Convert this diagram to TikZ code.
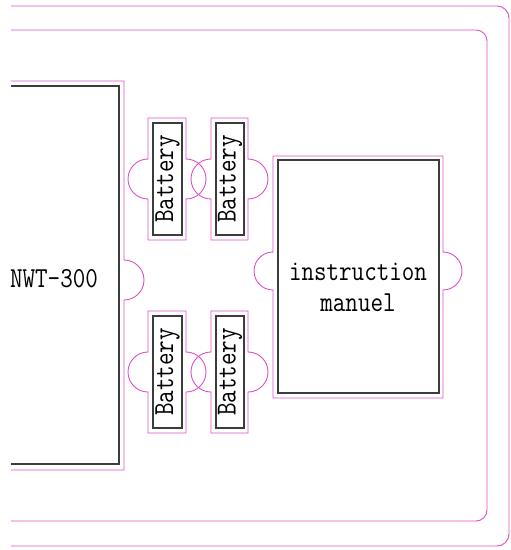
\documentclass[tikz,border=0pt]{standalone}
\usepackage{graphicx}

\definecolor{traypink}{RGB}{220,80,200}
\definecolor{boxgray}{RGB}{60,60,60}

\newcommand{\narrow}[1]{\scalebox{0.84}[1]{#1}}
% battery slot: left x, right x, middle y
\newcommand{\batterytray}[3]{%
  \draw[tray] (#1,#3-61) -- (#2,#3-61) -- (#2,#3-20)
    arc[start angle=-90, end angle=90, radius=20] -- (#2,#3+61)
    -- (#1,#3+61) -- (#1,#3+20)
    arc[start angle=90, end angle=270, radius=20] -- cycle;}

\tikzset{
  tray/.style = {draw=traypink, line width=0.9pt},
  part/.style = {shape=rectangle, draw=boxgray, line width=1.1pt, inner sep=0pt},
  lbl/.style  = {font=\ttfamily\fontsize{29}{31}\selectfont, inner sep=0pt},
}

\begin{document}
\begin{tikzpicture}[x=1pt, y=-1pt]
  \useasboundingbox (0,0) rectangle (511,550);

  % outer and inner walls of the box
  \draw[tray, rounded corners=12] (11,6) -- (509,6) -- (509,546) -- (11,546);
  \draw[tray, rounded corners=11] (11,30) -- (487,30) -- (487,521) -- (11,521);

  % ------------------------------------------------------------------------
  % device
  \draw[tray] (11,81) -- (124,81) -- (124,260)
    arc[start angle=-90, end angle=90, radius=20] -- (124,470) -- (11,470);
  \draw[draw=boxgray, line width=1.1pt] (11,86) -- (119,86) -- (119,464) -- (11,464);
  \node[lbl] at (54,279) (nwt) {\narrow{NWT-300}};

  % ------------------------------------------------------------------------
  % batteries
  \batterytray{148}{186}{179}
  \batterytray{211}{248}{179}
  \batterytray{148}{186}{372}
  \batterytray{211}{248}{372}

  \node[part, lbl, rotate=90, minimum width=112, minimum height=29] at (167.5,179) (batA) {\narrow{Battery}};
  \node[part, lbl, rotate=90, minimum width=112, minimum height=28] at (230,179)   (batB) {\narrow{Battery}};
  \node[part, lbl, rotate=90, minimum width=112, minimum height=29] at (167.5,372) (batC) {\narrow{Battery}};
  \node[part, lbl, rotate=90, minimum width=112, minimum height=28] at (230,372)   (batD) {\narrow{Battery}};

  % ------------------------------------------------------------------------
  % manual
  \draw[tray] (273,156) -- (443,156) -- (443,252)
    arc[start angle=-90, end angle=90, radius=19] -- (443,398)
    -- (273,398) -- (273,290)
    arc[start angle=90, end angle=270, radius=19] -- cycle;
  \node[part, minimum width=161, minimum height=233] at (358.5,276.5) (manual) {};
  \node[lbl, align=center] at (358,287) (manualtext) {\narrow{instruction}\\\narrow{manuel}};
\end{tikzpicture}
\end{document}
